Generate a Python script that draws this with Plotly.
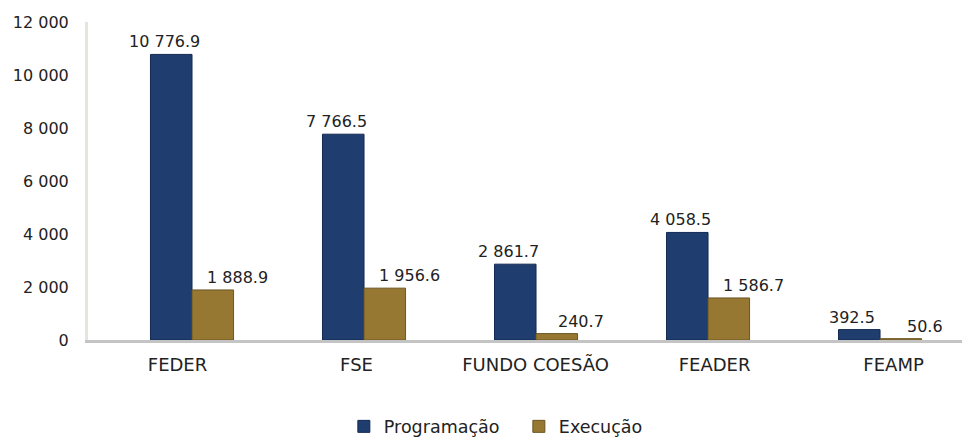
import plotly.graph_objects as go

categories = ["FEDER", "FSE", "FUNDO COESÃO", "FEADER", "FEAMP"]
programacao = [10776.9, 7766.5, 2861.7, 4058.5, 392.5]
execucao = [1888.9, 1956.6, 240.7, 1586.7, 50.6]
y_ticks = [0, 2000, 4000, 6000, 8000, 10000, 12000]

FONT = "'DejaVu Sans', 'Open Sans', sans-serif"
TXT = "#222222"


def fmt(v):
    return f"{v:,.1f}".replace(",", " ")


fig = go.Figure()
fig.add_trace(go.Bar(
    x=categories, y=programacao, name="Programação",
    marker=dict(color="#1F3D6E", line=dict(color="#132A52", width=1)),
))
fig.add_trace(go.Bar(
    x=categories, y=execucao, name="Execução",
    marker=dict(color="#977832", line=dict(color="#6C5522", width=1)),
))
# invisible helper trace carrying the category labels on the (perspective) label axis
fig.add_trace(go.Scatter(
    x=categories, y=[0] * len(categories), xaxis="x2", mode="none",
    showlegend=False, hoverinfo="skip",
))

annotations = []
for c, v in zip(categories, programacao):
    annotations.append(dict(x=c, y=v, xref="x", yref="y", text=fmt(v), showarrow=False,
                            xanchor="center", yanchor="bottom", xshift=-28, yshift=1,
                            font=dict(family=FONT, size=16, color=TXT)))
for c, v in zip(categories, execucao):
    annotations.append(dict(x=c, y=v, xref="x", yref="y", text=fmt(v), showarrow=False,
                            xanchor="center", yanchor="bottom", xshift=45, yshift=1,
                            font=dict(family=FONT, size=16, color=TXT)))

fig.update_layout(
    width=962, height=431,
    margin=dict(l=80, r=0, t=14, b=99, autoexpand=False),
    paper_bgcolor="white", plot_bgcolor="white",
    barmode="group", bargap=0.517, bargroupgap=0,
    font=dict(family=FONT, size=17, color=TXT),
    showlegend=True,
    annotations=annotations,
    legend=dict(orientation="h", x=0.4885, xanchor="center", y=-0.272, yanchor="middle",
                font=dict(family=FONT, size=17.5, color=TXT),
                entrywidth=130, entrywidthmode="pixels", traceorder="normal"),
    xaxis=dict(range=[-0.6047, 4.523], showgrid=False, showline=False,
               ticks="", showticklabels=False, automargin=False),
    xaxis2=dict(overlaying="x", anchor="y", side="bottom", type="category",
                range=[-0.5, 4.427],
                showgrid=False, zeroline=False, showline=True,
                linecolor="#C4C4C4", linewidth=3, ticks="",
                tickfont=dict(family=FONT, size=18, color=TXT),
                ticklabelstandoff=6, automargin=False),
    yaxis=dict(range=[0, 12000], tickvals=y_ticks, tickformat=",d",
               separatethousands=True,
               showgrid=False, zeroline=False, showline=True,
               linecolor="#E6E4DC", linewidth=3, ticks="",
               ticklabelstandoff=13, automargin=False,
               tickfont=dict(family=FONT, size=16, color=TXT)),
    separators=". ",
)

fig.write_html("out.html")
